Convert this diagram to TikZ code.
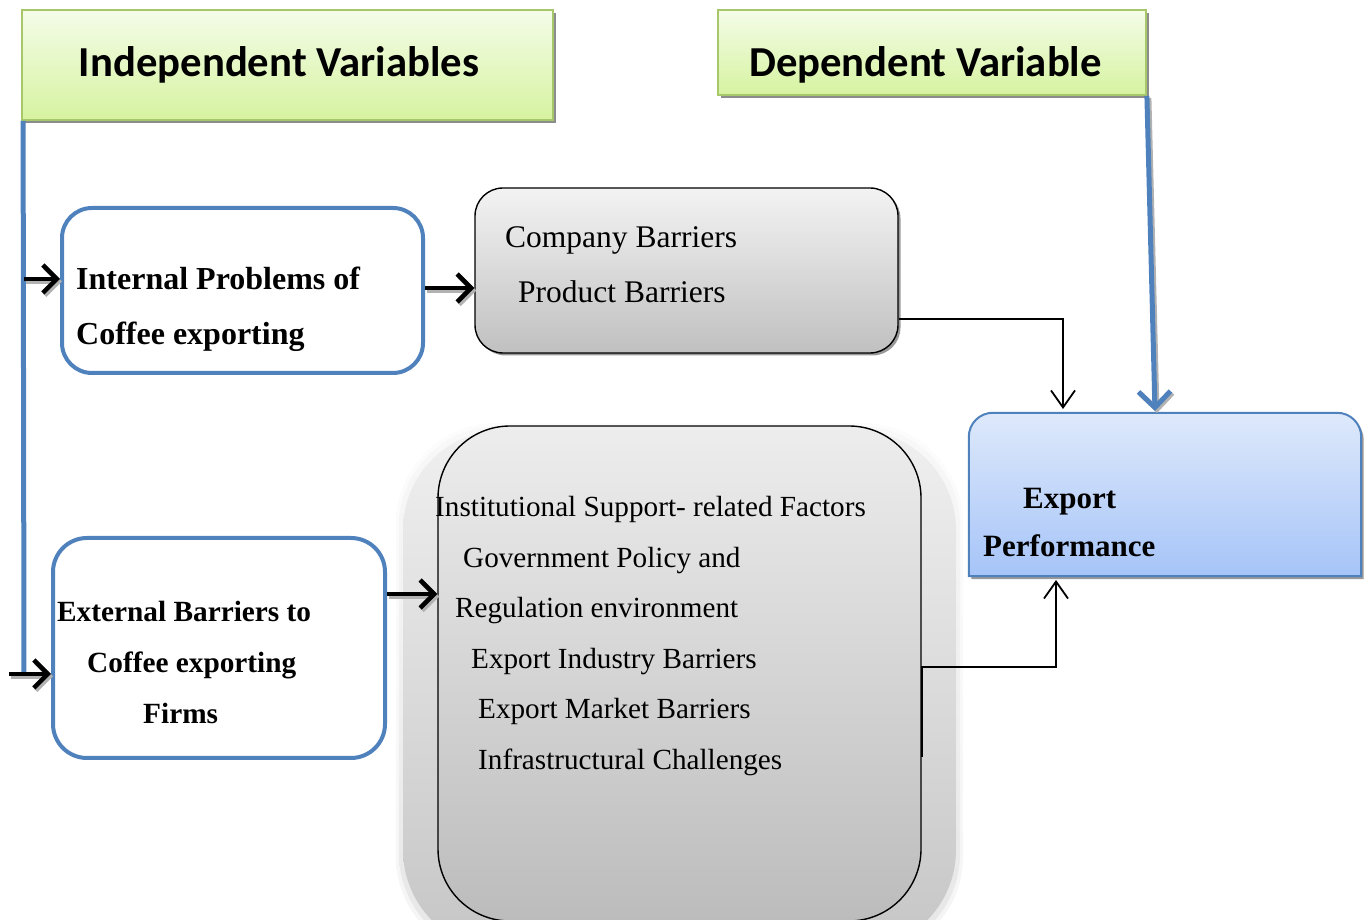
\documentclass[tikz,border=0pt]{standalone}
\usepackage{fontspec}
\setmainfont{Liberation Serif}
\newfontfamily\headfont{Carlito}
\usetikzlibrary{arrows.meta,shadows}

\definecolor{ablue}{HTML}{4F81BD}
\definecolor{gtop}{HTML}{F4FCE8}
\definecolor{gbot}{HTML}{D6F3A0}
\definecolor{gborder}{HTML}{A6C76A}
\definecolor{etop}{HTML}{DEE9FB}
\definecolor{ebot}{HTML}{A6C4F8}
\definecolor{ctop}{HTML}{F3F3F3}
\definecolor{cbot}{HTML}{C0C0C0}
\definecolor{btop}{HTML}{EDEDED}
\definecolor{bbot}{HTML}{BCBCBC}

\tikzset{
  headbox/.style={draw=gborder, line width=1.8pt, top color=gtop, bottom color=gbot, inner sep=0pt,
    drop shadow={shadow xshift=3pt, shadow yshift=-3pt, fill=black!45, opacity=1}},
  headtxt/.style={anchor=base, inner sep=0pt, font=\headfont\bfseries\fontsize{42.7}{50}\selectfont},
  factorbox/.style={draw=ablue, line width=4pt, fill=white, inner sep=0pt},
  greybox/.style={draw=black, line width=1.4pt, top color=ctop, bottom color=cbot, inner sep=0pt,
    rounded corners=28pt, drop shadow={shadow xshift=2.5pt, shadow yshift=-2.5pt, fill=black!40, opacity=1}},
  bigbox/.style={draw=black, line width=1.4pt, top color=btop, bottom color=bbot, inner sep=0pt,
    rounded corners=72pt},
  glow/.style={top color=gray!12, bottom color=gray!45, rounded corners=100pt},
  expshape/.style={draw=ablue, line width=2pt, top color=etop, bottom color=ebot,
    drop shadow={shadow xshift=2.5pt, shadow yshift=-3pt, fill=black!40, opacity=1}},
  lbl/.style={anchor=base west, inner sep=0pt},
  boldtxt/.style={lbl, font=\bfseries\fontsize{#1}{#1}\selectfont},
  plaintxt/.style={lbl, font=\fontsize{#1}{#1}\selectfont},
  fatarrow/.style={line width=4.5pt, -{Straight Barb[length=14pt,width=28pt]}},
  fatshadow/.style={fatarrow, draw=black!30, transform canvas={xshift=2pt,yshift=-2.5pt}},
  linkarrow/.style={line width=1.8pt, -{Straight Barb[length=17pt,width=24pt]}},
  bluearrow/.style={draw=ablue, line width=5pt, -{Straight Barb[length=16pt,width=32pt]}},
  blueshadow/.style={bluearrow, draw=black!30, transform canvas={xshift=2pt,yshift=-2pt}},
  bus/.style={draw=ablue, line width=5pt},
}

\begin{document}
\begin{tikzpicture}[x=1pt,y=1pt]
\useasboundingbox (0,0) rectangle (1367,920);
\clip (0,0) rectangle (1367,920);

% headers
\node[headbox, minimum width=531pt, minimum height=110pt] (indep) at (287.5,855) {};
\node[headtxt] (indep-t) at (279,843) {Independent Variables};
\node[headbox, minimum width=428pt, minimum height=85pt] (dep) at (932,867.5) {};
\node[headtxt] (dep-t) at (925.5,843) {Dependent Variable};

% soft halo behind the external factors box
\foreach \d/\o in {7/0.18,4/0.3,0/1}
  \path[glow, opacity=\o] (403-\d,-30-\d) rectangle (956+\d,490+\d);

% factor boxes
\node[factorbox, rounded corners=30pt, minimum width=361pt, minimum height=165pt] (int) at (242.5,629.5) {};
\node[boldtxt=32] (int-a) at (76,630) {Internal Problems of};
\node[boldtxt=32] (int-b) at (76,575) {Coffee exporting};

\node[factorbox, rounded corners=34pt, minimum width=332pt, minimum height=220pt] (ext) at (219,272) {};
\node[boldtxt=29.3] (ext-a) at (57,298) {External Barriers to};
\node[boldtxt=29.3] (ext-b) at (87,247) {Coffee exporting};
\node[boldtxt=29.3] (ext-c) at (143,196) {Firms};

% internal barriers
\node[greybox, minimum width=423pt, minimum height=165pt] (comp) at (686.5,649.5) {};
\node[plaintxt=31.5] (comp-a) at (505,672) {Company Barriers};
\node[plaintxt=31.5] (comp-b) at (518,617) {Product Barriers};

% external barriers
\node[bigbox, minimum width=483pt, minimum height=495pt] (big) at (679.5,246.5) {};
\node[plaintxt=29.2] (big-a) at (435,403) {Institutional Support- related Factors};
\node[plaintxt=29.2] (big-b) at (463,352) {Government Policy and};
\node[plaintxt=29.2] (big-c) at (455,302) {Regulation environment};
\node[plaintxt=29.2] (big-d) at (471,251) {Export Industry Barriers};
\node[plaintxt=29.2] (big-e) at (478,201) {Export Market Barriers};
\node[plaintxt=29.2] (big-f) at (478,150) {Infrastructural Challenges};

% outcome
\node[inner sep=0pt, minimum width=392pt, minimum height=163pt] (exp) at (1165,425.5) {};
\path[expshape] (exp.south west) -- ([yshift=-24pt]exp.north west)
  arc[start angle=180, end angle=90, radius=24pt] -- ([xshift=-24pt]exp.north east)
  arc[start angle=90, end angle=0, radius=24pt] -- (exp.south east) -- cycle;
\node[boldtxt=31] (exp-a) at (1023,411) {Export};
\node[boldtxt=31] (exp-b) at (983,363) {Performance};

% blue bus from the independent variables
\coordinate (bus-top) at ([xshift=2pt]indep.south west);
\coordinate (bus-bot) at (24,243);
\draw[bus] (bus-top) -- (bus-bot);
\coordinate (j1) at (24,641);
\coordinate (j2) at (9,246);
\draw[fatshadow] (j1) -- (j1 -| int.west);
\draw[fatarrow] (j1) -- (j1 -| int.west);
\draw[fatshadow] (j2) -- (j2 -| ext.west);
\draw[fatarrow] (j2) -- (j2 -| ext.west);

% factor boxes to barriers
\draw[fatshadow] (int.east |- 0,632) -- (comp.west |- 0,632);
\draw[fatarrow] (int.east |- 0,632) -- (comp.west |- 0,632);
\draw[fatshadow] (ext.east |- 0,326) -- (big.west |- 0,326);
\draw[fatarrow] (ext.east |- 0,326) -- (big.west |- 0,326);

% barriers to export performance
\coordinate (c1) at (1063,511);
\draw[linkarrow] (comp.east |- 0,601) -| (c1);
\coordinate (c3) at (1056,340);
\draw[linkarrow] (big.east |- 0,163) -- (big.east |- 0,253) -| (c3);

% dependent variable link
\coordinate (c2) at (1155,509);
\draw[blueshadow] (dep.south east) -- (c2);
\draw[bluearrow] (dep.south east) -- (c2);
\end{tikzpicture}
\end{document}
